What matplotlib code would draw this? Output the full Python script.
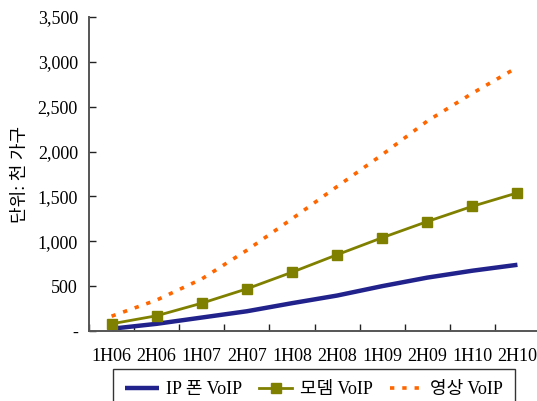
import matplotlib.pyplot as plt

plt.rcParams['font.family'] = ['Liberation Serif', 'Noto Sans CJK KR']

periods = ['1H06', '2H06', '1H07', '2H07', '1H08', '2H08', '1H09', '2H09', '1H10', '2H10']
ip_phone = [25, 80, 150, 220, 310, 395, 500, 595, 672, 738]
modem = [80, 170, 310, 470, 655, 850, 1040, 1220, 1390, 1540]
video = [165, 345, 580, 900, 1250, 1610, 1965, 2340, 2650, 2940]

y_ticks = [0, 500, 1000, 1500, 2000, 2500, 3000, 3500]
y_labels = ['-', '500', '1,000', '1,500', '2,000', '2,500', '3,000', '3,500']

fig = plt.figure(figsize=(5.37, 4.01), dpi=100)
ax = fig.add_axes([89 / 537, 70 / 401, 451 / 537, 314 / 401])

x = range(len(periods))
ax.plot(x, ip_phone, color='#22228c', lw=3.2, label='IP 폰 VoIP', solid_capstyle='butt')
ax.plot(x, modem, color='#808000', lw=2, marker='s', markersize=7, label='모뎀 VoIP')
ax.plot(x, video, color='#ff6600', lw=2.6, linestyle=(0, (1.2, 2.2)), label='영상 VoIP')

ax.set_xlim(-0.5, 9.5)
ax.set_ylim(0, 3500)
ax.set_yticks(y_ticks)
ax.set_yticklabels(y_labels)
# category boundaries carry the tick marks, names sit at the centres
ax.set_xticks([i + 0.5 for i in range(-1, 9)])
ax.set_xticklabels([])
ax.set_xticks(list(x), minor=True)
ax.set_xticklabels(periods, minor=True)
ax.tick_params(axis='x', which='major', direction='in', length=5, width=1, color='#222222')
ax.tick_params(axis='x', which='minor', length=0, pad=12, labelsize=13)
ax.tick_params(axis='y', direction='in', length=5, width=1, color='#222222', pad=8, labelsize=13)

for side in ['top', 'right']:
    ax.spines[side].set_visible(False)
for side in ['left', 'bottom']:
    ax.spines[side].set_color('#555555')
    ax.spines[side].set_linewidth(1.4)

ax.set_ylabel('단위: 천 가구', fontsize=13, labelpad=6)

leg = fig.legend(loc='upper left', bbox_to_anchor=(108 / 537, 37 / 401), ncol=3,
                 fontsize=13, frameon=True, fancybox=False, handlelength=1.85,
                 columnspacing=0.95, handletextpad=0.4, borderpad=0.65,
                 borderaxespad=0.3)
leg.get_frame().set_edgecolor('black')
leg.get_frame().set_linewidth(1)

fig.savefig('out.png', dpi=100)
